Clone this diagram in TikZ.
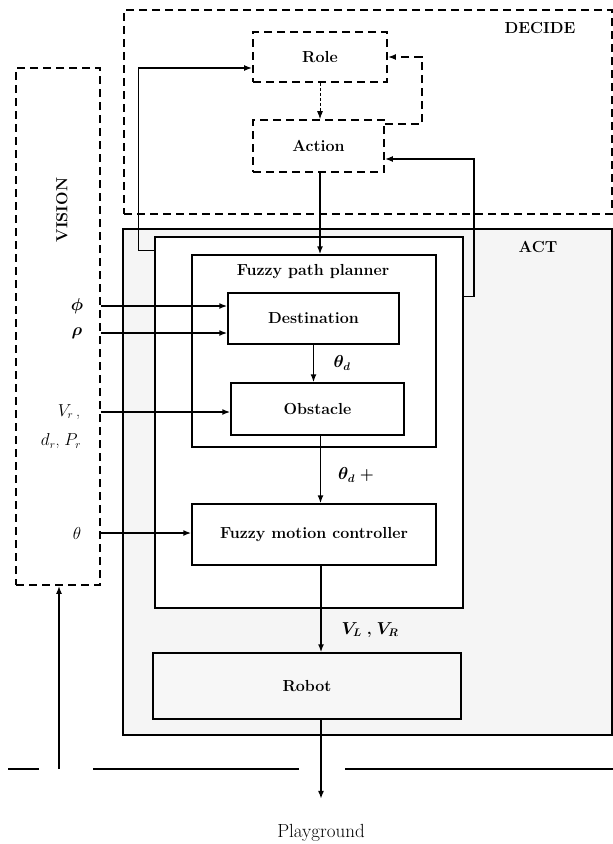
\documentclass[tikz,border=0pt]{standalone}
\usepackage{amsmath}
\usepackage{fontspec}
\usetikzlibrary{arrows.meta}
\begin{document}
\begin{tikzpicture}[x=1pt,y=-1pt,
    >={Latex[length=8pt,width=6pt]},
    font=\fontsize{16}{19}\selectfont,
    bold/.style={font=\fontsize{16}{19}\selectfont\bfseries},
    sig/.style={font=\fontsize{16}{19}\selectfont},
    blk/.style={draw,line width=1.5pt,fill=white,bold,inner sep=0pt},
    dline/.style={line width=1.8pt,dash pattern=on 8pt off 5pt},
    dblk/.style={blk,dline,fill=none},
    wire/.style={line width=1.5pt}]
    \useasboundingbox (0,0) rectangle (613,844);
    % decide part
    \node[dblk, minimum width=488pt, minimum height=204pt] (decide) at (368,112) {};
    \node[bold] (decidetxt) at (540,28) {DECIDE};
    \node[dblk, minimum width=134pt, minimum height=50pt] (role) at (320,57) {Role};
    \node[dblk, minimum width=131pt, minimum height=52pt] (action) at (318.5,146) {Action};
    % vision part
    \node[dblk, minimum width=84pt, minimum height=517pt] (vision) at (58,326.5) {};
    \node[bold, rotate=90] (visiontxt) at (62,210) {VISION};
    % act part
    \node[blk, fill=black!4, minimum width=489pt, minimum height=506pt] (act) at (367.5,482) {};
    \node[bold] (acttxt) at (538,247) {ACT};
    \node[blk, minimum width=308pt, minimum height=371pt] (inner) at (309,422.5) {};
    \node[blk, minimum width=244pt, minimum height=192pt] (fpp) at (314,351) {};
    \node[bold] (fpptxt) at (313,272) {Fuzzy path planner};
    \node[blk, minimum width=171pt, minimum height=51pt] (dest) at (313.5,318.5) {Destination};
    \node[blk, minimum width=173pt, minimum height=52pt] (obst) at (317.5,409) {Obstacle};
    \node[blk, minimum width=244pt, minimum height=61pt] (fmc) at (314,534.5) {Fuzzy motion controller};
    \node[blk, fill=black!3, minimum width=308pt, minimum height=66pt] (robot) at (307,686) {Robot};
    \node[font=\fontsize{19}{22}\selectfont] (play) at (321,833) {Playground};
    % signals
    \node[sig] (phi) at (77,306) {$\boldsymbol{\phi}$};
    \node[sig] (rho) at (77,333) {$\boldsymbol{\rho}$};
    \node[sig] (vr) at (69,412) {$V_r$\,,};
    \node[sig] (dp) at (61,441) {$d_r$, $P_r$};
    \node[sig] (th) at (77,533) {$\theta$};
    \node[sig] (thd) at (342,363) {$\boldsymbol{\theta_d}$};
    \node[sig] (thdp) at (356,475) {$\boldsymbol{\theta_d}$ \textbf{+}};
    \node[sig] (vlvr) at (370,630) {$\boldsymbol{V_L}$ \textbf{,} $\boldsymbol{V_R}$};
    % connectors
    \draw[->, line width=0.8pt, dash pattern=on 3pt off 2pt] (role.south) -- (role.south |- action.north);
    \draw[dline, ->] ([yshift=-5pt]action.north east) -- ++(37,0) |- (role.east);
    \draw[wire, ->] ([yshift=-14pt]inner.north west) -- ++(-16,0) |- ([yshift=-11pt]role.west);
    \draw[wire, ->] ([yshift=-60pt]inner.north east) -- ++(10,0) |- ([yshift=-13pt]action.east);
    \draw[wire, ->] ([xshift=1.5pt]action.south) -- ([xshift=1.5pt]action.south |- fpp.north);
    \draw[wire, ->] (phi -| vision.east) -- (phi -| dest.west);
    \draw[wire, ->] (rho -| vision.east) -- (rho -| dest.west);
    \draw[wire, ->] (vr -| vision.east) -- (vr -| obst.west);
    \draw[wire, ->] (th -| vision.east) -- (th -| fmc.west);
    \draw[wire, ->] (dest.south) -- (dest.south |- obst.north);
    \draw[wire, ->] ([xshift=3pt]obst.south) -- ([xshift=3pt]obst.south |- fmc.north);
    \draw[wire, ->] ([xshift=7pt]fmc.south) -- ([xshift=7pt]fmc.south |- robot.north);
    \draw[wire, ->] (robot.south -| play.north) -- ([yshift=22pt]play.north);
    % ground
    \draw[wire] (8,769) -- (39,769) (93,769) -- (299,769) (345,769) -- (613,769);
    \coordinate (gnd) at (59,769);
    \draw[wire, ->] (gnd) -- (gnd |- vision.south);
\end{tikzpicture}
\end{document}
